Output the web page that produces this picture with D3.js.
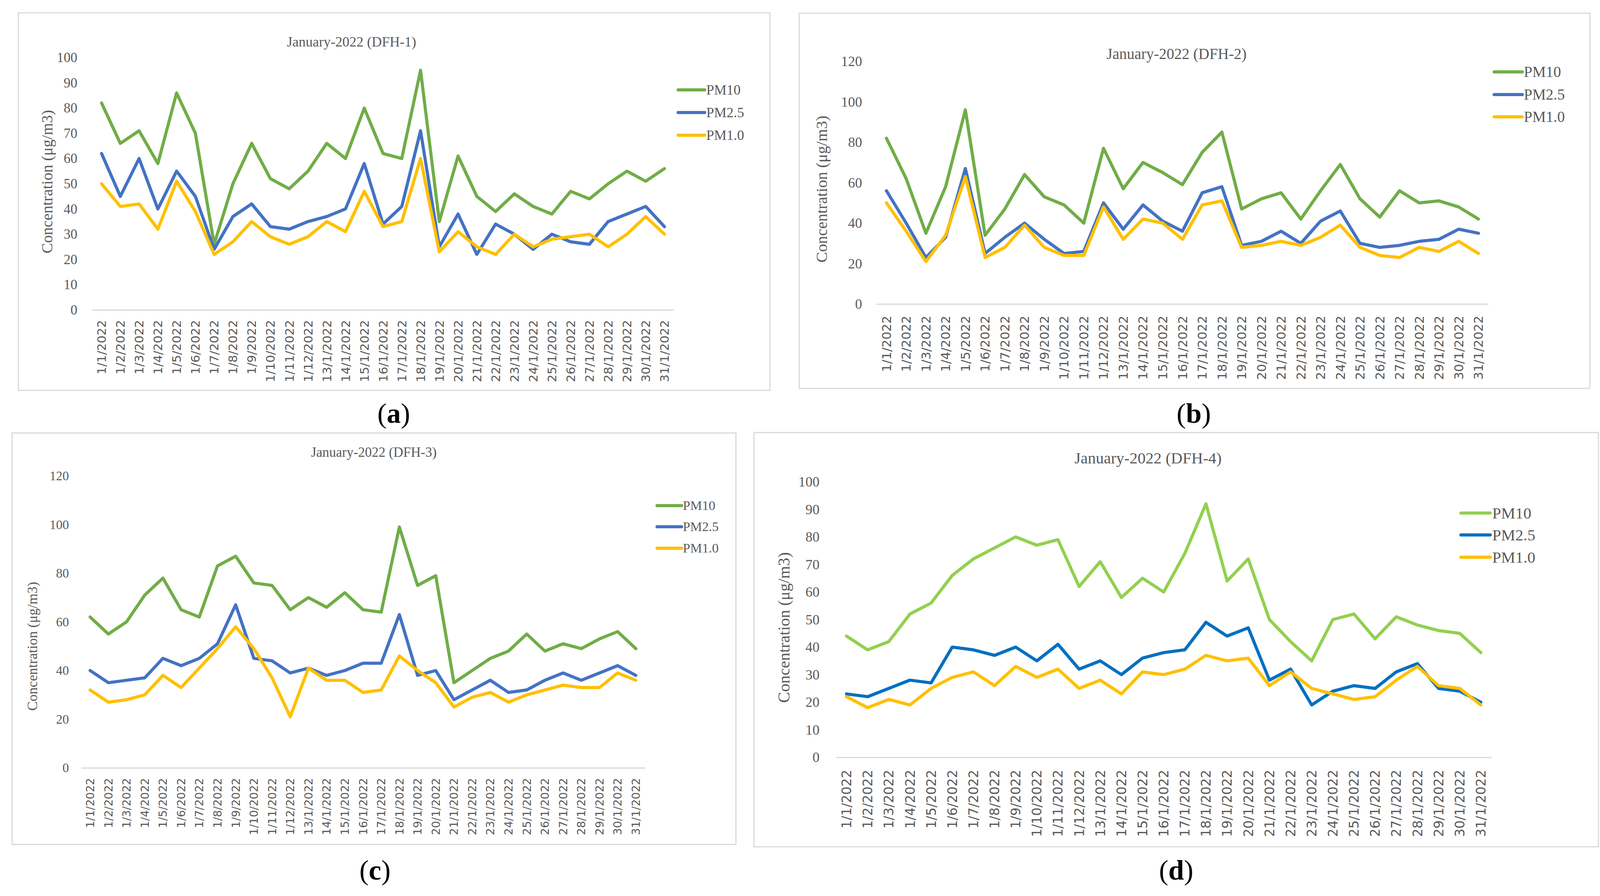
<!DOCTYPE html>
<html>
<head>
<meta charset="utf-8">
<script src="https://cdn.jsdelivr.net/npm/d3@7"></script>
<style>
  body { margin: 0; background: #fff; overflow: hidden; }
  svg { display: block; }
</style>
</head>
<body>
<div id="chart"></div>
<script>
// category labels (same for all four stations)
const dates = [
    "1/1/2022", "1/2/2022", "1/3/2022", "1/4/2022", "1/5/2022", "1/6/2022", "1/7/2022",
    "1/8/2022", "1/9/2022", "1/10/2022", "1/11/2022", "1/12/2022", "13/1/2022", "14/1/2022",
    "15/1/2022", "16/1/2022", "17/1/2022", "18/1/2022", "19/1/2022", "20/1/2022", "21/1/2022",
    "22/1/2022", "23/1/2022", "24/1/2022", "25/1/2022", "26/1/2022", "27/1/2022", "28/1/2022",
    "29/1/2022", "30/1/2022", "31/1/2022"
];

const seriesNames = ["PM10", "PM2.5", "PM1.0"];

// DFH-1
const dfh1PM10 = [82, 66, 71, 58, 86, 70, 26, 50, 66, 52, 48, 55, 66, 60, 80, 62, 60, 95, 35, 61, 45, 39, 46, 41, 38, 47, 44, 50, 55, 51, 56];
const dfh1PM25 = [62, 45, 60, 40, 55, 45, 24, 37, 42, 33, 32, 35, 37, 40, 58, 34, 41, 71, 25, 38, 22, 34, 30, 24, 30, 27, 26, 35, 38, 41, 33];
const dfh1PM1 = [50, 41, 42, 32, 51, 39, 22, 27, 35, 29, 26, 29, 35, 31, 47, 33, 35, 60, 23, 31, 25, 22, 30, 25, 28, 29, 30, 25, 30, 37, 30];

// DFH-2
const dfh2PM10 = [82, 62, 35, 58, 96, 34, 47, 64, 53, 49, 40, 77, 57, 70, 65, 59, 75, 85, 47, 52, 55, 42, 56, 69, 52, 43, 56, 50, 51, 48, 42];
const dfh2PM25 = [56, 40, 23, 33, 67, 25, 33, 40, 32, 25, 26, 50, 37, 49, 41, 36, 55, 58, 29, 31, 36, 30, 41, 46, 30, 28, 29, 31, 32, 37, 35];
const dfh2PM1 = [50, 36, 21, 34, 63, 23, 28, 39, 28, 24, 24, 48, 32, 42, 40, 32, 49, 51, 28, 29, 31, 29, 33, 39, 28, 24, 23, 28, 26, 31, 25];

// DFH-3
const dfh3PM10 = [62, 55, 60, 71, 78, 65, 62, 83, 87, 76, 75, 65, 70, 66, 72, 65, 64, 99, 75, 79, 35, 40, 45, 48, 55, 48, 51, 49, 53, 56, 49];
const dfh3PM25 = [40, 35, 36, 37, 45, 42, 45, 51, 67, 45, 44, 39, 41, 38, 40, 43, 43, 63, 38, 40, 28, 32, 36, 31, 32, 36, 39, 36, 39, 42, 38];
const dfh3PM1 = [32, 27, 28, 30, 38, 33, 41, 49, 58, 49, 37, 21, 41, 36, 36, 31, 32, 46, 40, 35, 25, 29, 31, 27, 30, 32, 34, 33, 33, 39, 36];

// DFH-4
const dfh4PM10 = [44, 39, 42, 52, 56, 66, 72, 76, 80, 77, 79, 62, 71, 58, 65, 60, 74, 92, 64, 72, 50, 42, 35, 50, 52, 43, 51, 48, 46, 45, 38];
const dfh4PM25 = [23, 22, 25, 28, 27, 40, 39, 37, 40, 35, 41, 32, 35, 30, 36, 38, 39, 49, 44, 47, 28, 32, 19, 24, 26, 25, 31, 34, 25, 24, 20];
const dfh4PM1 = [22, 18, 21, 19, 25, 29, 31, 26, 33, 29, 32, 25, 28, 23, 31, 30, 32, 37, 35, 36, 26, 31, 25, 23, 21, 22, 28, 33, 26, 25, 19];

// y tick labels
const ticks100 = [0, 10, 20, 30, 40, 50, 60, 70, 80, 90, 100];
const ticks120 = [0, 20, 40, 60, 80, 100, 120];

const panelTitles = ["January-2022 (DFH-1)", "January-2022 (DFH-2)", "January-2022 (DFH-3)", "January-2022 (DFH-4)"];
const panelLetters = ["a", "b", "c", "d"];

const W = 4121, H = 2293;
const textColor = "#595959";
const gridColor = "#D9D9D9";
const serif = "'Liberation Serif', 'Times New Roman', serif";
const sans = "'DejaVu Sans', Verdana, sans-serif";

const svg = d3.select("#chart").append("svg")
    .attr("width", W)
    .attr("height", H);

svg.append("rect").attr("width", W).attr("height", H).attr("fill", "#fff");

// layout for each panel (pixel positions)
const panels = [
    {
        box: [47, 33, 1971, 999], xRange: [236, 1725], y0: 793, yTop: 147.5, yMax: 100, ticks: ticks100,
        tickPad: 38, tickFont: 35, xGap: 26, xFont: 31,
        title: [900, 106, 36], yLab: [120, 465, 40],
        legend: { x1: 1736, x2: 1804, tx: 1808, ys: [230, 288, 346], font: 36 },
        colors: ["#70AD47", "#4472C4", "#FFC000"],
        data: [dfh1PM10, dfh1PM25, dfh1PM1],
        label: [1008, 1082]
    },
    {
        box: [2046, 34, 4070, 994], xRange: [2244, 3810], y0: 778, yTop: 157, yMax: 120, ticks: ticks120,
        tickPad: 37, tickFont: 36, xGap: 30, xFont: 32,
        title: [3012, 137, 39], yLab: [2103, 484, 41],
        legend: { x1: 3825, x2: 3897, tx: 3901, ys: [184, 242, 299], font: 39 },
        colors: ["#70AD47", "#4472C4", "#FFC000"],
        data: [dfh2PM10, dfh2PM25, dfh2PM1],
        label: [3056, 1082]
    },
    {
        box: [31, 1108, 1884, 2161], xRange: [207.5, 1651], y0: 1965, yTop: 1218, yMax: 120, ticks: ticks120,
        tickPad: 31, tickFont: 33, xGap: 26, xFont: 28.5,
        title: [957, 1157, 35], yLab: [82, 1654, 36],
        legend: { x1: 1682, x2: 1745, tx: 1748, ys: [1294, 1348, 1403], font: 34 },
        colors: ["#70AD47", "#4472C4", "#FFC000"],
        data: [dfh3PM10, dfh3PM25, dfh3PM1],
        label: [960, 2251]
    },
    {
        box: [1930, 1107, 4092, 2167], xRange: [2140, 3818], y0: 1938, yTop: 1233, yMax: 100, ticks: ticks100,
        tickPad: 42, tickFont: 36, xGap: 32, xFont: 33.5,
        title: [2939, 1172, 41], yLab: [2006, 1606, 42],
        legend: { x1: 3740, x2: 3815, tx: 3820, ys: [1313, 1369, 1426], font: 41 },
        colors: ["#92D050", "#0070C0", "#FFC000"],
        data: [dfh4PM10, dfh4PM25, dfh4PM1],
        label: [3011, 2251]
    }
];

function drawPanel(p, i) {
    const g = svg.append("g").attr("class", "panel");

    // chart frame
    g.append("rect")
        .attr("x", p.box[0])
        .attr("y", p.box[1])
        .attr("width", p.box[2] - p.box[0])
        .attr("height", p.box[3] - p.box[1])
        .attr("fill", "#fff")
        .attr("stroke", gridColor)
        .attr("stroke-width", 3);

    const x = d3.scaleBand().domain(dates).range(p.xRange);
    const y = d3.scaleLinear().domain([0, p.yMax]).range([p.y0, p.yTop]);
    const cx = d => x(d) + x.bandwidth() / 2;

    // y axis (labels only)
    const yAxis = g.append("g")
        .attr("transform", `translate(${p.xRange[0]},0)`)
        .call(d3.axisLeft(y).tickValues(p.ticks).tickSize(0).tickPadding(p.tickPad));
    yAxis.select(".domain").remove();
    yAxis.selectAll("text")
        .style("font-family", serif)
        .style("font-size", p.tickFont + "px")
        .style("fill", textColor);

    // x axis with rotated date labels
    const xAxis = g.append("g")
        .attr("transform", `translate(0,${p.y0})`)
        .call(d3.axisBottom(x).tickSize(0).tickSizeOuter(0));
    xAxis.select(".domain")
        .attr("stroke", gridColor)
        .attr("stroke-width", 3);
    xAxis.selectAll("text")
        .attr("transform", "rotate(-90)")
        .attr("x", -p.xGap)
        .attr("y", 0)
        .attr("dy", "0.36em")
        .attr("text-anchor", "end")
        .style("font-family", sans)
        .style("font-size", p.xFont + "px")
        .style("fill", textColor);

    // series lines
    const line = d3.line()
        .x((d, j) => cx(dates[j]))
        .y(d => y(d));

    p.data.forEach((vals, k) => {
        g.append("path")
            .datum(vals)
            .attr("fill", "none")
            .attr("stroke", p.colors[k])
            .attr("stroke-width", 8)
            .attr("stroke-linejoin", "round")
            .attr("stroke-linecap", "round")
            .attr("d", line);
    });

    // title
    g.append("text")
        .attr("x", p.title[0])
        .attr("y", p.title[1])
        .attr("dy", "0.35em")
        .attr("text-anchor", "middle")
        .style("font-family", serif)
        .style("font-size", p.title[2] + "px")
        .style("fill", textColor)
        .text(panelTitles[i]);

    // y axis title
    g.append("text")
        .attr("transform", `translate(${p.yLab[0]},${p.yLab[1]}) rotate(-90)`)
        .attr("dy", "0.35em")
        .attr("text-anchor", "middle")
        .style("font-family", serif)
        .style("font-size", p.yLab[2] + "px")
        .style("fill", textColor)
        .text("Concentration (μg/m3)");

    // legend
    const lg = g.append("g");
    seriesNames.forEach((name, k) => {
        const ly = p.legend.ys[k];
        lg.append("line")
            .attr("x1", p.legend.x1)
            .attr("x2", p.legend.x2)
            .attr("y1", ly)
            .attr("y2", ly)
            .attr("stroke", p.colors[k])
            .attr("stroke-width", 8)
            .attr("stroke-linecap", "round");
        lg.append("text")
            .attr("x", p.legend.tx)
            .attr("y", ly)
            .attr("dy", "0.33em")
            .style("font-family", serif)
            .style("font-size", p.legend.font + "px")
            .style("fill", textColor)
            .text(name);
    });

    // panel letter below the chart
    const lab = svg.append("text")
        .attr("x", p.label[0])
        .attr("y", p.label[1])
        .attr("text-anchor", "middle")
        .style("font-family", serif)
        .style("font-size", "72px")
        .style("fill", "#000");
    lab.append("tspan").text("(");
    lab.append("tspan").style("font-weight", "bold").text(panelLetters[i]);
    lab.append("tspan").text(")");
}

panels.forEach(drawPanel);
</script>
</body>
</html>
